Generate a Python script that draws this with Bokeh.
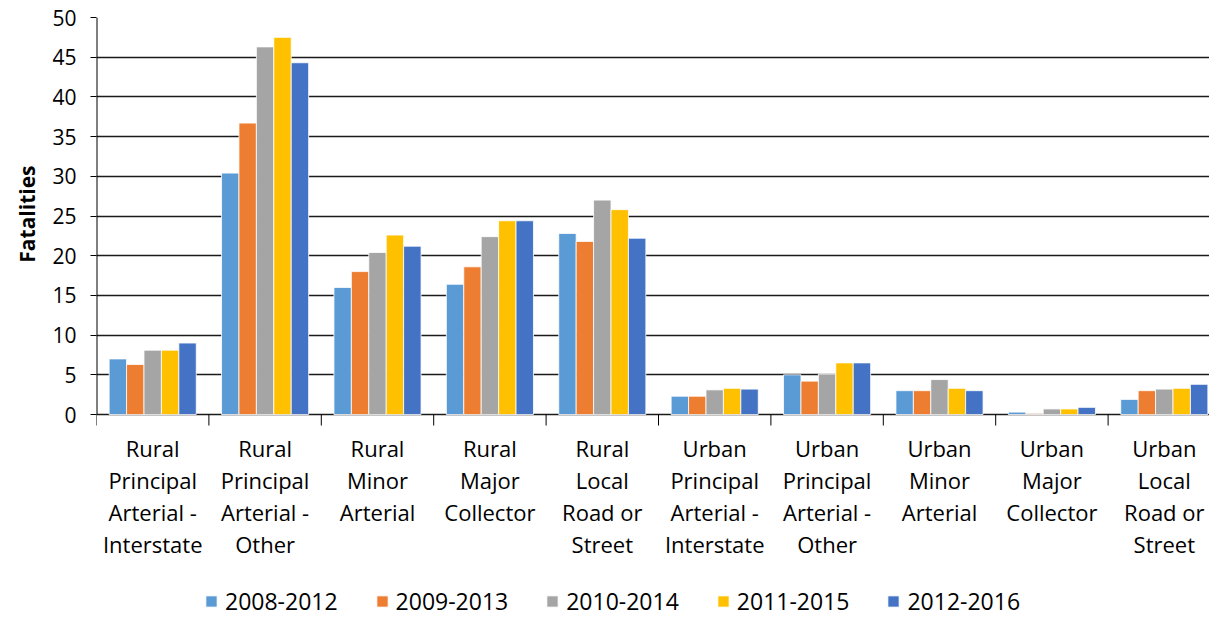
from bokeh.plotting import figure
from bokeh.models import (ColumnDataSource, Range1d, FixedTicker, Legend, LegendItem, Title)
from bokeh.core.properties import value
from bokeh.embed import file_html
from bokeh.resources import INLINE

categories = [
    "Rural\nPrincipal\nArterial -\nInterstate",
    "Rural\nPrincipal\nArterial -\nOther",
    "Rural\nMinor\nArterial",
    "Rural\nMajor\nCollector",
    "Rural\nLocal\nRoad or\nStreet",
    "Urban\nPrincipal\nArterial -\nInterstate",
    "Urban\nPrincipal\nArterial -\nOther",
    "Urban\nMinor\nArterial",
    "Urban\nMajor\nCollector",
    "Urban\nLocal\nRoad or\nStreet",
]
series_names = ["2008-2012", "2009-2013", "2010-2014", "2011-2015", "2012-2016"]
s2008_2012 = [7.0, 30.4, 16.0, 16.4, 22.8, 2.3, 5.0, 3.0, 0.3, 1.9]
s2009_2013 = [6.3, 36.7, 18.0, 18.6, 21.8, 2.3, 4.2, 3.0, 0.1, 3.0]
s2010_2014 = [8.1, 46.3, 20.4, 22.4, 27.0, 3.1, 5.1, 4.4, 0.7, 3.2]
s2011_2015 = [8.1, 47.5, 22.6, 24.4, 25.8, 3.3, 6.5, 3.3, 0.7, 3.3]
s2012_2016 = [9.0, 44.3, 21.2, 24.4, 22.2, 3.2, 6.5, 3.0, 0.9, 3.8]
series_values = [s2008_2012, s2009_2013, s2010_2014, s2011_2015, s2012_2016]
y_ticks = [0, 5, 10, 15, 20, 25, 30, 35, 40, 45, 50]
colors = ["#5B9BD5", "#ED7D31", "#A5A5A5", "#FFC000", "#4472C4"]

FONT = "Open Sans"
n = len(categories)
cat_px = 112.4          # pixels per category
px_per_unit = 397 / 50  # pixels per fatality on the y scale
frame_w = 1113
frame_h = 602
bar_w = 0.155
y_top = 50
y_bottom = y_top - frame_h / px_per_unit

p = figure(width=1209, height=619, output_backend="svg", toolbar_location=None,
           x_range=Range1d(0, frame_w / cat_px), y_range=Range1d(y_bottom, y_top),
           x_axis_location=None,
           min_border_left=96, min_border_right=0, min_border_top=17, min_border_bottom=0,
           frame_width=frame_w, frame_height=frame_h)
p.outline_line_color = None
p.background_fill_color = "white"

items = []
for j, (name, vals, col) in enumerate(zip(series_names, series_values, colors)):
    xs = [i + 0.5 + (j - 2) * bar_w for i in range(n)]
    src = ColumnDataSource(dict(x=xs, top=vals))
    r = p.vbar(x="x", top="top", width=bar_w, bottom=0, source=src,
               fill_color=col, line_color="white", line_width=0.8)
    items.append(LegendItem(label=name, renderers=[r]))

# category axis: boundary ticks and multi-line labels
bounds = list(range(n + 1))
tick_len = 11 / px_per_unit
p.segment(x0=bounds, y0=[0] * len(bounds), x1=bounds, y1=[-tick_len] * len(bounds),
          line_color="black", line_width=1)
label_y = -18 / px_per_unit
p.text(x=[i + 0.5 for i in range(n)], y=[label_y] * n, text=categories,
       text_align="center", text_baseline="top", text_font=value(FONT),
       text_font_size="22px", text_color="black", text_line_height=1.07)

# y axis line (only over the value range)
p.segment(x0=[0], y0=[0], x1=[0], y1=[y_top], line_color="black", line_width=2)

# y axis
p.yaxis.ticker = FixedTicker(ticks=y_ticks)
p.yaxis.minor_tick_line_color = None
p.yaxis.major_tick_in = 0
p.yaxis.major_tick_out = 6
p.yaxis.major_tick_line_color = "black"
p.yaxis.axis_line_color = None
p.yaxis.major_label_text_font = FONT
p.yaxis.major_label_text_font_size = "21px"
p.yaxis.major_label_text_color = "black"
p.yaxis.major_label_standoff = 14

ylab = Title(text="Fatalities", align="right", offset=148, standoff=14,
             vertical_align="top",
             text_font=FONT, text_font_size="21px", text_font_style="bold",
             text_color="black")
p.add_layout(ylab, "left")

p.xgrid.grid_line_color = None
p.ygrid.grid_line_color = "#1a1a1a"
p.ygrid.grid_line_width = 1.3

legend = Legend(items=items, orientation="horizontal", location=(108, 2),
                label_text_font=FONT, label_text_font_size="23px",
                label_text_color="black", glyph_width=14, glyph_height=14,
                label_standoff=7, spacing=37, padding=0, margin=0,
                border_line_color=None, background_fill_alpha=0)
p.add_layout(legend, "center")

open("out.html", "w").write(file_html(p, INLINE))
